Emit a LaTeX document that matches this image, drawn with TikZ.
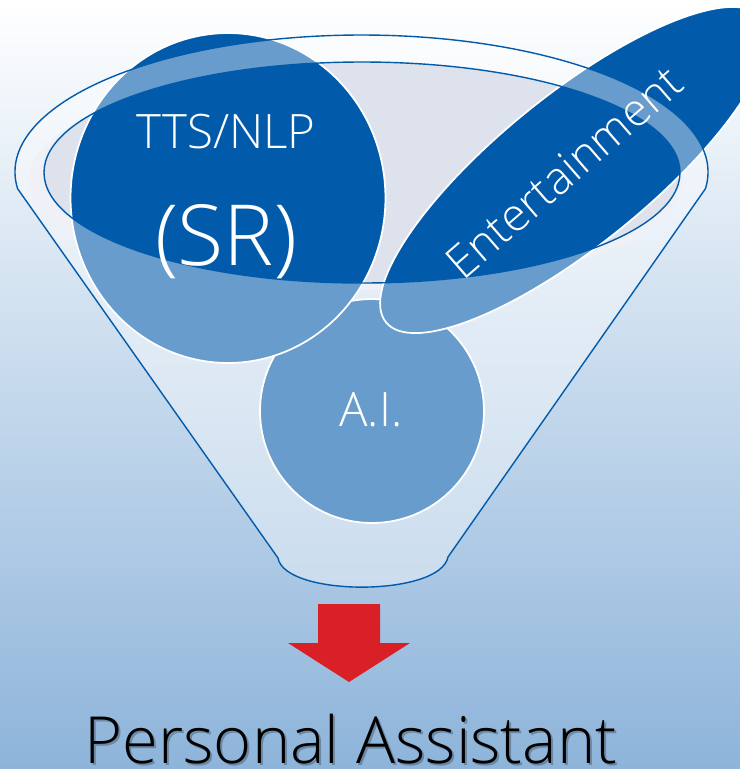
\documentclass[tikz,border=0pt]{standalone}
\usepackage{fontspec}
\setmainfont{Carlito}
\IfFontExistsTF{Open Sans Light}
  {\newfontfamily\thinfont{Open Sans Light}}
  {\IfFontExistsTF{Fira Sans Light}
    {\newfontfamily\thinfont{Fira Sans Light}}
    {\newfontfamily\thinfont{Open Sans}}}
\usetikzlibrary{shapes.geometric}

\definecolor{FunnelBlue}{RGB}{2,91,170}
\definecolor{MouthGray}{RGB}{221,226,236}
\definecolor{LipGray}{RGB}{229,233,241}
\definecolor{SkyMid}{RGB}{222,233,244}
\definecolor{SkyLow}{RGB}{141,180,218}
\definecolor{ArrowRed}{RGB}{217,32,39}

\begin{document}
\begin{tikzpicture}[x=0.02cm,y=-0.02cm,
    bubble/.style={draw=white,line width=1pt,fill=FunnelBlue,inner sep=0pt},
    rim/.style={draw=FunnelBlue,line width=0.8pt},
    glass/.style={fill=white,fill opacity=0.4,even odd rule},
    lbl/.style={text=white,font=\thinfont\fontsize{27}{30}\selectfont,inner sep=0pt},
    result/.style={font=\thinfont\fontsize{37}{42}\selectfont,anchor=base,inner sep=0pt}
  ]
  \useasboundingbox (0,0) rectangle (740,769);
  \clip (0,0) rectangle (740,769);
  \shade[top color=white,middle color=SkyMid,bottom color=SkyLow] (0,0) rectangle (740,769);

  % inside of the funnel
  \fill[LipGray] (356,180) ellipse[x radius=327,y radius=110];
  \fill[MouthGray] (362,172.5) ellipse[x radius=318,y radius=110.5];

  % bubbles dropped into the mouth
  \node[bubble,circle,minimum size=4.48cm] (aic) at (372,411) {};
  \node[bubble,ellipse,minimum width=6.3cm,minimum height=6.6cm] (src) at (228,198) {};
  \node[bubble,ellipse,minimum width=9.68cm,minimum height=3.0cm,rotate=39] (entc) at (574,170) {};

  % front wall, see-through
  \path[glass] (278,558) -- (17.6,188.7)
      arc[start angle=173,end angle=367,x radius=346.5,y radius=137]
      -- (448,557) .. controls (440,597) and (285,597) .. cycle
    (362,172.5) ellipse[x radius=318,y radius=110.5];
  \draw[rim] (278,558) -- (17.6,188.7)
      arc[start angle=173,end angle=367,x radius=346.5,y radius=137]
      -- (448,557) .. controls (440,597) and (285,597) .. cycle;
  \draw[rim] (362,172.5) ellipse[x radius=318,y radius=110.5];

  \node[lbl,anchor=base] (tts) at (226,148) {TTS/NLP};
  \node[lbl,anchor=base,font=\thinfont\fontsize{48}{52}\selectfont] (sr) at (226,265) {(SR)};
  \node[lbl,anchor=base] (ai) at (371,426) {A.I.};
  \node[lbl,rotate=41,font=\thinfont\fontsize{26}{30}\selectfont] (ent) at (564,172) {Entertainment};

  % output arrow
  \fill[ArrowRed] (318,604) -- (380,604) -- (380,643) -- (410,643)
    -- (349,682) -- (288,643) -- (318,643) -- cycle;

  \node[result,text=black,opacity=0.25] (pashade) at (353,765) {Personal Assistant};
  \node[result] (pa) at (351,763) {Personal Assistant};
\end{tikzpicture}
\end{document}
